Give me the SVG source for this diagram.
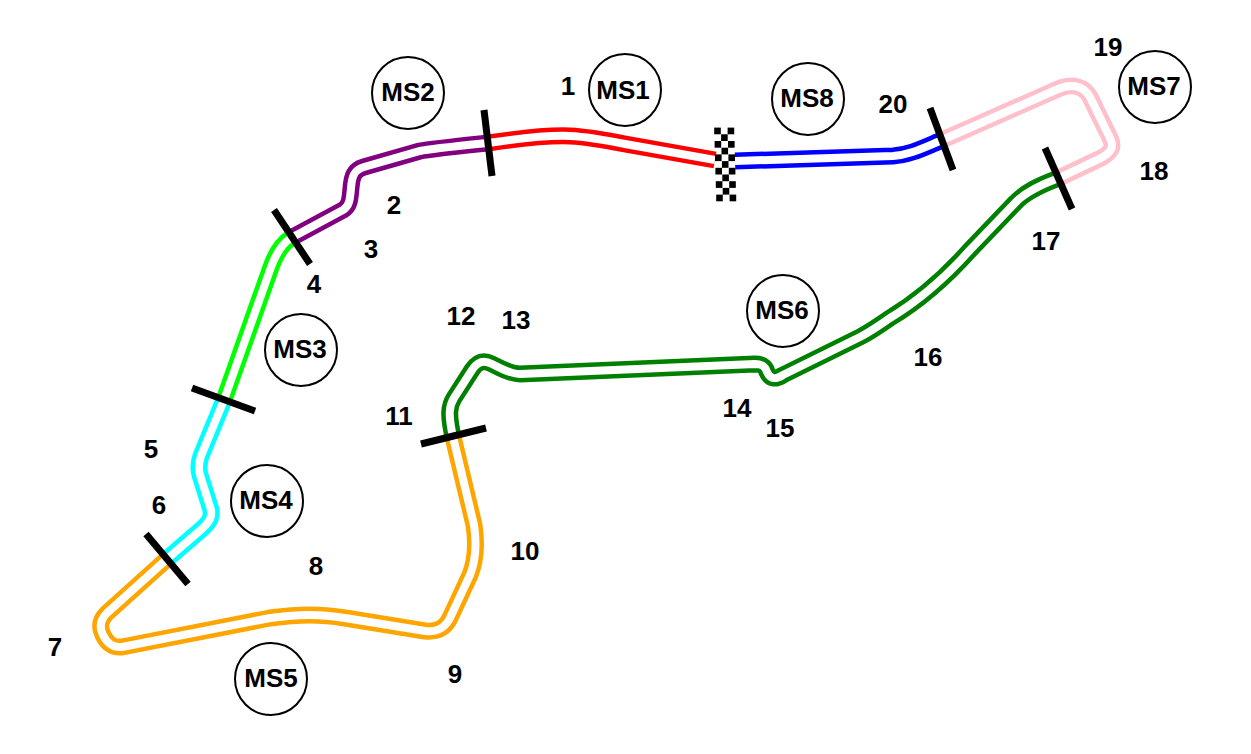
<svg xmlns="http://www.w3.org/2000/svg" xmlns:xlink="http://www.w3.org/1999/xlink" width="1251" height="754" viewBox="0 0 1251 754">
<style>
text{font-family:"Liberation Sans",Arial,sans-serif;font-weight:700;font-size:26px;text-anchor:middle;fill:#000}
circle{fill:#fff;stroke:#000;stroke-width:2}
.o{fill:none;stroke-width:17;stroke-linejoin:round}
.i{fill:none;stroke:#fff;stroke-width:8}
.bar{stroke:#000;stroke-width:7;fill:none}
.c{fill:#000}
</style>
<defs>
<path id="p1" d="M488,143 C515,139 545,135 570,136 C590,137 605,140 625,144 L715,160"/>
<path id="p2" d="M291,238 L343,210 C350,206 350,198 351,188 C352,176 354,170 364,167 L420,151 C430,149 440,148 488,143"/>
<path id="p3" d="M224,400 L270,270 C274,258 280,245 291,238"/>
<path id="p4" d="M167,559 L203,528 C210,521 212,517 211,510 L200,475 C198,468 199,462 201,456 L224,400"/>
<path id="p5" d="M453,437 L474,525 C477,545 476,560 470,575 L450,618 C444,630 435,632 425,631 L345,618 C320,614 300,614 270,618 L122,647 C112,648 107,643 103,635 C99,627 100,620 107,613 L167,559"/>
<path id="p6" d="M1059,178 C1040,185 1025,192 1015,203 L970,250 C945,278 920,300 890,318 C880,325 870,332 860,337 L783,375 C775,380 770,379 767,372 C765,366 762,364 755,364 L520,374 C510,374 500,368 492,364 C484,360 478,361 472,370 L454,398 C449,406 448,414 453,437"/>
<path id="p7" d="M940,141 L1058,89 C1072,83 1084,86 1090,97 L1110,138 C1115,148 1110,153 1101,158 L1059,178"/>
<path id="p8" d="M735,161 L893,156 C910,155 925,147 940,141"/>
</defs>
<g id="track">
<use href="#p1" class="o" stroke="#ff0000"/><use href="#p1" class="i"/>
<use href="#p2" class="o" stroke="#800080"/><use href="#p2" class="i"/>
<use href="#p3" class="o" stroke="#00ff00"/><use href="#p3" class="i"/>
<use href="#p4" class="o" stroke="#00ffff"/><use href="#p4" class="i"/>
<use href="#p5" class="o" stroke="#ffa500"/><use href="#p5" class="i"/>
<use href="#p6" class="o" stroke="#008000"/><use href="#p6" class="i"/>
<use href="#p7" class="o" stroke="#ffc0cb"/><use href="#p7" class="i"/>
<use href="#p8" class="o" stroke="#0000ff"/><use href="#p8" class="i"/>
<g id="sector-bars">
<path class="bar" d="M484,110 L492,176"/>
<path class="bar" d="M274,210 L310,264"/>
<path class="bar" d="M192,388 L255,411"/>
<path class="bar" d="M146,534 L188,584"/>
<path class="bar" d="M421,444 L486,428"/>
<path class="bar" d="M1045,148 L1072,209"/>
<path class="bar" d="M930,108 L953,170"/>
</g>
</g>
<g id="finish-flag" class="c">
<rect x="714.2" y="127.6" width="6.6" height="6.7"/><rect x="727.6" y="127.6" width="6.6" height="6.7"/>
<rect x="721.1" y="134.3" width="6.6" height="6.7"/>
<rect x="714.6" y="141" width="6.6" height="6.7"/><rect x="728" y="141" width="6.6" height="6.7"/>
<rect x="721.5" y="147.7" width="6.6" height="6.7"/>
<rect x="715" y="154.4" width="6.6" height="6.7"/><rect x="728.4" y="154.4" width="6.6" height="6.7"/>
<rect x="721.9" y="161.1" width="6.6" height="6.7"/>
<rect x="715.4" y="167.8" width="6.6" height="6.7"/><rect x="728.8" y="167.8" width="6.6" height="6.7"/>
<rect x="722.3" y="174.5" width="6.6" height="6.7"/>
<rect x="715.8" y="181.2" width="6.6" height="6.7"/><rect x="729.2" y="181.2" width="6.6" height="6.7"/>
<rect x="722.7" y="187.9" width="6.6" height="6.7"/>
<rect x="716.2" y="194.6" width="6.6" height="6.7"/><rect x="729.6" y="194.6" width="6.6" height="6.7"/>
</g>
<g id="MS1"><circle cx="625" cy="90" r="36"/><text x="623" y="99">MS1</text></g>
<g id="MS2"><circle cx="408" cy="93" r="36"/><text x="408" y="101">MS2</text></g>
<g id="MS3"><circle cx="301" cy="350" r="36"/><text x="300" y="358">MS3</text></g>
<g id="MS4"><circle cx="267" cy="501" r="36"/><text x="266" y="509">MS4</text></g>
<g id="MS5"><circle cx="271" cy="679" r="36"/><text x="271" y="687">MS5</text></g>
<g id="MS6"><circle cx="783" cy="311" r="36"/><text x="782" y="319">MS6</text></g>
<g id="MS7"><circle cx="1155" cy="87" r="36"/><text x="1154" y="95">MS7</text></g>
<g id="MS8"><circle cx="808" cy="99" r="36"/><text x="807" y="107">MS8</text></g>
<g id="turns">
<text x="568" y="95">1</text>
<text x="394" y="214">2</text>
<text x="371" y="258">3</text>
<text x="314" y="293">4</text>
<text x="151" y="458">5</text>
<text x="159" y="514">6</text>
<text x="55" y="656">7</text>
<text x="316" y="575">8</text>
<text x="455" y="683">9</text>
<text x="525" y="560">10</text>
<text x="399" y="425">11</text>
<text x="461" y="325">12</text>
<text x="516" y="329">13</text>
<text x="737" y="417">14</text>
<text x="780" y="437">15</text>
<text x="928" y="366">16</text>
<text x="1046" y="250">17</text>
<text x="1154" y="180">18</text>
<text x="1108" y="56">19</text>
<text x="893" y="113">20</text>
</g>
</svg>
